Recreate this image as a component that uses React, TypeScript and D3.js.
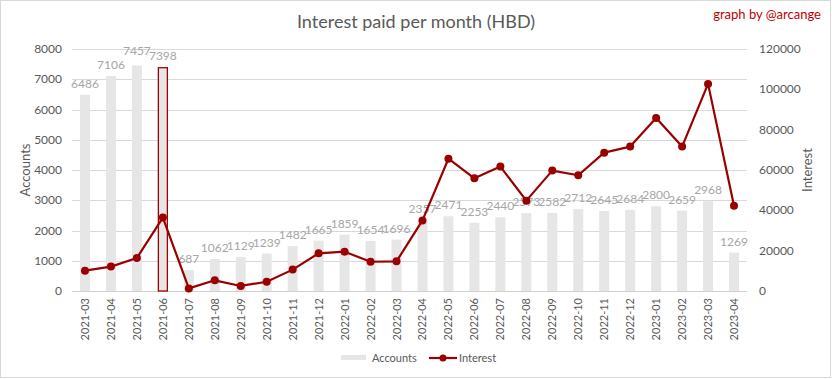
import React from "react";
import * as d3 from "d3";

const months = ["2021-03","2021-04","2021-05","2021-06","2021-07","2021-08","2021-09","2021-10","2021-11","2021-12","2022-01","2022-02","2022-03","2022-04","2022-05","2022-06","2022-07","2022-08","2022-09","2022-10","2022-11","2022-12","2023-01","2023-02","2023-03","2023-04"];
const accounts = [6486,7106,7457,7398,687,1062,1129,1239,1482,1665,1859,1654,1696,2357,2471,2253,2440,2573,2582,2712,2645,2684,2800,2659,2968,1269];
const interest = [10100,12100,16400,36400,1300,5300,2500,4600,10600,18700,19500,14500,14700,35000,65600,55900,61700,44800,59700,57400,68600,71600,85800,71600,102700,42300];
const leftTicks = [0,1000,2000,3000,4000,5000,6000,7000,8000];
const rightTicks = [0,20000,40000,60000,80000,100000,120000];
const highlighted = "2021-06";
// label vertical nudges (Excel overlap avoidance)
const labelNudge: Record<string, number> = { "2021-05": -3 };

const W = 832, H = 379;
const M = { left: 72, right: 747, top: 49, bottom: 291 };
const FONT = "Lato, 'Open Sans', sans-serif";
const RED = "#9b0000";
const GRAY_TEXT = "#595959";

export default function App() {
  const x = d3.scaleBand<string>().domain(months).range([M.left, M.right]).paddingInner(0.615).paddingOuter(0.3075);
  const yL = d3.scaleLinear().domain([0, 8000]).range([M.bottom, M.top]);
  const yR = d3.scaleLinear().domain([0, 120000]).range([M.bottom, M.top]);
  const cx = (m: string) => (x(m) as number) + x.bandwidth() / 2;
  const line = d3.line<number>().x((_, i) => cx(months[i])).y(v => yR(v));

  return (
    <div style={{ position: "absolute", left: 0, top: 0 }}>
      <svg width={W} height={H} style={{ display: "block", fontFamily: FONT }}>
        <rect x={0.5} y={0.5} width={W - 2} height={H - 2} fill="#fff" stroke="#d9d9d9" />
        <text x={416} y={28} textAnchor="middle" fontSize={18} fill={GRAY_TEXT}>Interest paid per month (HBD)</text>
        <text x={821} y={19} textAnchor="end" fontSize={13} fill="#c00000">graph by @arcange</text>
        {leftTicks.map(t => (
          <g key={"l" + t}>
            <line x1={M.left} x2={M.right} y1={Math.round(yL(t)) + 0.5} y2={Math.round(yL(t)) + 0.5} stroke={t === 0 ? "#d0d0d0" : "#d9d9d9"} />
            <text x={62} y={yL(t) + 4} textAnchor="end" fontSize={12} fill={GRAY_TEXT}>{t}</text>
          </g>
        ))}
        {rightTicks.map(t => (
          <text key={"r" + t} x={759} y={yR(t) + 4} fontSize={12} fill={GRAY_TEXT}>{t}</text>
        ))}
        <text transform={`translate(30,170) rotate(-90)`} textAnchor="middle" fontSize={13} fill={GRAY_TEXT}>Accounts</text>
        <text transform={`translate(812,170) rotate(-90)`} textAnchor="middle" fontSize={13} fill={GRAY_TEXT}>Interest</text>
        {months.map((m, i) => {
          const hl = m === highlighted;
          return (
            <g key={m}>
              <rect x={(x(m) as number) + (hl ? 0.5 : 0)} y={yL(accounts[i]) + (hl ? 0.5 : 0)}
                width={x.bandwidth() - (hl ? 1 : 0)} height={M.bottom - yL(accounts[i]) - (hl ? 0.5 : 0)}
                fill="#e6e6e6" stroke={hl ? "#a50000" : "none"} strokeWidth={1.3} />
              <text x={cx(m)} y={yL(accounts[i]) - 7 + (labelNudge[m] || 0)} textAnchor="middle" fontSize={12} fill="#a6a6a6">{accounts[i]}</text>
              <text transform={`translate(${cx(m) + 4},298) rotate(-90)`} textAnchor="end" fontSize={11} fill={GRAY_TEXT}>{m}</text>
            </g>
          );
        })}
        <path d={line(interest) || ""} fill="none" stroke={RED} strokeWidth={2.2} strokeLinejoin="round" />
        {interest.map((v, i) => (
          <circle key={i} cx={cx(months[i])} cy={yR(v)} r={4} fill={RED} />
        ))}
        <rect x={341} y={355} width={25} height={5} fill="#e6e6e6" />
        <text x={372} y={362} fontSize={11} fill={GRAY_TEXT}>Accounts</text>
        <line x1={429} x2={457} y1={358} y2={358} stroke={RED} strokeWidth={2.2} />
        <circle cx={443} cy={358} r={3.5} fill={RED} />
        <text x={459} y={362} fontSize={11} fill={GRAY_TEXT}>Interest</text>
      </svg>
    </div>
  );
}
